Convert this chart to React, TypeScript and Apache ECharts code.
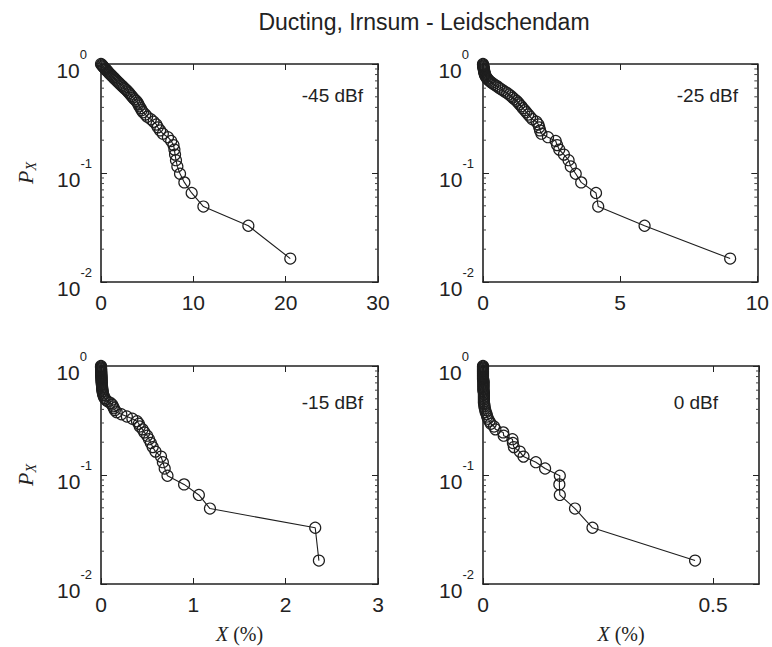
import React, { useEffect, useRef } from 'react';
import * as echarts from 'echarts';

const TITLE = 'Ducting, Irnsum - Leidschendam';
const PANEL_LABELS = ['-45 dBf', '-25 dBf', '-15 dBf', '0 dBf'];
const X_MAX = [30, 10, 3, 0.6];
const X_INTERVAL = [10, 5, 1, 0.5];
const Y_MINOR = [0.02, 0.03, 0.04, 0.05, 0.06, 0.07, 0.08, 0.09, 0.2, 0.3, 0.4, 0.5, 0.6, 0.7, 0.8, 0.9];

// exceedance probability P_X (same for every panel)
const PX = [
  1.0, 0.9836, 0.9672, 0.9508, 0.9344, 0.918, 0.9016, 0.8852, 0.8689, 0.8525,
  0.8361, 0.8197, 0.8033, 0.7869, 0.7705, 0.7541, 0.7377, 0.7213, 0.7049, 0.6885,
  0.6721, 0.6557, 0.6393, 0.623, 0.6066, 0.5902, 0.5738, 0.5574, 0.541, 0.5246,
  0.5082, 0.4918, 0.4754, 0.459, 0.4426, 0.4262, 0.4098, 0.3934, 0.377, 0.3607,
  0.3443, 0.3279, 0.3115, 0.2951, 0.2787, 0.2623, 0.2459, 0.2295, 0.2131, 0.1967,
  0.1803, 0.1639, 0.1475, 0.1311, 0.1148, 0.0984, 0.082, 0.0656, 0.0492, 0.0328,
  0.0164,
];

// X (%) values per panel
const X_M45 = [
  0.0, 0.08, 0.15, 0.22, 0.3, 0.38, 0.47, 0.56, 0.64, 0.73,
  0.82, 0.91, 1.01, 1.12, 1.22, 1.33, 1.45, 1.56, 1.68, 1.8,
  1.93, 2.05, 2.2, 2.33, 2.48, 2.62, 2.78, 2.92, 3.05, 3.18,
  3.32, 3.45, 3.62, 3.8, 3.95, 4.05, 4.15, 4.3, 4.4, 4.55,
  4.8, 5.0, 5.4, 5.7, 6.0, 6.15, 6.4, 6.7, 7.25, 7.6,
  7.85, 7.95, 8.02, 8.12, 8.27, 8.56, 9.03, 9.82, 11.09, 15.96,
  20.5,
];
const X_M25 = [
  0.0, 0.0, 0.01, 0.01, 0.02, 0.02, 0.03, 0.03, 0.04, 0.05,
  0.05, 0.06, 0.07, 0.08, 0.1, 0.12, 0.15, 0.18, 0.22, 0.27,
  0.32, 0.38, 0.45, 0.52, 0.58, 0.65, 0.72, 0.8, 0.88, 0.95,
  1.02, 1.08, 1.15, 1.22, 1.28, 1.33, 1.4, 1.45, 1.52, 1.58,
  1.65, 1.72, 1.8, 1.95, 2.02, 2.05, 2.08, 2.13, 2.37, 2.65,
  2.7, 2.78, 2.95, 3.12, 3.2, 3.38, 3.58, 4.12, 4.2, 5.89,
  9.01,
];
const X_M15 = [
  0.0, 0.0, 0.0, 0.001, 0.001, 0.001, 0.002, 0.002, 0.002, 0.003,
  0.003, 0.004, 0.004, 0.005, 0.005, 0.006, 0.006, 0.007, 0.008, 0.009,
  0.01, 0.011, 0.012, 0.013, 0.015, 0.017, 0.019, 0.022, 0.026, 0.031,
  0.038, 0.05, 0.07, 0.1, 0.12, 0.13, 0.14, 0.15, 0.17, 0.22,
  0.28, 0.34, 0.39, 0.41, 0.42, 0.45, 0.47, 0.5, 0.52, 0.54,
  0.56, 0.59, 0.65, 0.67, 0.69, 0.72, 0.9, 1.06, 1.18, 2.32,
  2.36,
];
const X_0 = [
  0.0, 0.0, 0.0, 0.0, 0.0, 0.0, 0.0, 0.0, 0.0, 0.0,
  0.0, 0.0, 0.0, 0.0, 0.0, 0.0, 0.001, 0.001, 0.001, 0.001,
  0.001, 0.001, 0.001, 0.001, 0.001, 0.001, 0.002, 0.002, 0.002, 0.002,
  0.002, 0.002, 0.002, 0.002, 0.003, 0.003, 0.004, 0.005, 0.006, 0.008,
  0.009, 0.011, 0.014, 0.017, 0.024, 0.027, 0.044, 0.045, 0.064, 0.065,
  0.067, 0.08, 0.088, 0.115, 0.135, 0.167, 0.166, 0.167, 0.2, 0.238,
  0.461,
];

const X_DATA = [X_M45, X_M25, X_M15, X_0];

const SANS = 'Liberation Sans, Arial, sans-serif';
const SERIF = 'Liberation Serif, Times New Roman, serif';
const INK = '#222';
const MARK = '#1e1e1e';

export default function App() {
  const ref = useRef<HTMLDivElement>(null);

  useEffect(() => {
    if (!ref.current) return;
    const chart = echarts.init(ref.current, null, { renderer: 'svg' });

    const grids = [
      { left: 101, top: 64, width: 277, height: 218 },
      { left: 483, top: 64, width: 276, height: 218 },
      { left: 101, top: 366, width: 277, height: 218 },
      { left: 483, top: 366, width: 276, height: 218 },
    ];
    const labelPos = [
      [363, 95],
      [738, 95],
      [363, 402],
      [718, 402],
    ];

    const axisLine = { show: true, onZero: false, lineStyle: { color: INK, width: 1.6 } };
    const axisTick = { show: true, inside: true, length: 6, lineStyle: { color: INK, width: 1 } };

    const xAxis: any[] = [];
    const yAxis: any[] = [];
    const series: any[] = [];

    grids.forEach((g, i) => {
      xAxis.push({
        type: 'value',
        gridIndex: i,
        position: 'bottom',
        min: 0,
        max: X_MAX[i],
        interval: X_INTERVAL[i],
        axisLine,
        axisTick,
        splitLine: { show: false },
        axisLabel: {
          show: true,
          margin: 10,
          fontSize: 21,
          color: INK,
          fontFamily: SANS,
          showMaxLabel: i !== 3,
          formatter: (v: number) => String(v),
        },
        name: i >= 2 ? '{i|X}{n| (%)}' : '',
        nameLocation: 'middle',
        nameGap: 40,
        nameTextStyle: {
          rich: {
            i: { fontFamily: SERIF, fontStyle: 'italic', fontSize: 20, color: INK },
            n: { fontFamily: SERIF, fontSize: 20, color: INK },
          },
        },
      });
      xAxis.push({
        type: 'value',
        gridIndex: i,
        position: 'top',
        min: 0,
        max: X_MAX[i],
        interval: X_INTERVAL[i],
        axisLine,
        axisTick,
        splitLine: { show: false },
        axisLabel: { show: false },
      });
      yAxis.push({
        type: 'log',
        logBase: 10,
        gridIndex: i,
        position: 'left',
        min: 0.01,
        max: 1,
        axisLine,
        axisTick,
        splitLine: { show: false },
        axisLabel: {
          show: true,
          margin: 9,
          formatter: (v: number) => {
            const e = Math.round(Math.log10(v));
            return `{b|10}{${e === 0 ? 'z' : 'e'}|${e}}`;
          },
          rich: {
            b: { fontSize: 21, lineHeight: 33, verticalAlign: 'bottom', fontFamily: SANS, color: INK },
            e: { fontSize: 13, verticalAlign: 'top', fontFamily: SANS, color: INK },
            z: { fontSize: 13, verticalAlign: 'top', fontFamily: SANS, color: INK, padding: [0, 5, 0, 0] },
          },
        },
        name: i % 2 === 0 ? '{p|P}{s|X}' : '',
        nameLocation: 'middle',
        nameGap: 63,
        nameRotate: 90,
        nameTextStyle: {
          rich: {
            p: { fontFamily: SERIF, fontStyle: 'italic', fontSize: 22, lineHeight: 26, color: INK },
            s: { fontFamily: SERIF, fontStyle: 'italic', fontSize: 14, verticalAlign: 'bottom', color: INK },
          },
        },
      });
      yAxis.push({
        type: 'log',
        logBase: 10,
        gridIndex: i,
        position: 'right',
        min: 0.01,
        max: 1,
        axisLine,
        axisTick,
        splitLine: { show: false },
        axisLabel: { show: false },
      });

      const xmax = X_MAX[i];
      series.push({
        type: 'custom',
        xAxisIndex: 2 * i,
        yAxisIndex: 2 * i,
        silent: true,
        z: 1,
        data: Y_MINOR.map((v) => [0, v]),
        renderItem: (_p: any, api: any) => {
          const v = api.value(1);
          const a = api.coord([0, v]);
          const b = api.coord([xmax, v]);
          return {
            type: 'group',
            children: [
              { type: 'line', shape: { x1: a[0], y1: a[1], x2: a[0] + 3, y2: a[1] }, style: { stroke: '#444', lineWidth: 1 } },
              { type: 'line', shape: { x1: b[0] - 3, y1: b[1], x2: b[0], y2: b[1] }, style: { stroke: '#444', lineWidth: 1 } },
            ],
          };
        },
      });
      series.push({
        type: 'line',
        xAxisIndex: 2 * i,
        yAxisIndex: 2 * i,
        data: X_DATA[i].map((x, j) => [x, PX[j]]),
        symbol: 'circle',
        symbolSize: 11,
        clip: false,
        silent: true,
        z: 3,
        itemStyle: { color: 'rgba(0,0,0,0)', borderColor: MARK, borderWidth: 1.2 },
        lineStyle: { color: MARK, width: 1.1 },
      });
    });

    const graphic: any[] = [
      {
        type: 'text',
        x: 424,
        y: 22,
        style: { text: TITLE, fontSize: 23, fontFamily: SANS, fill: INK, textAlign: 'center', textVerticalAlign: 'middle' },
      },
      ...PANEL_LABELS.map((t, i) => ({
        type: 'text',
        x: labelPos[i][0],
        y: labelPos[i][1],
        style: { text: t, fontSize: 19, fontFamily: SANS, fill: INK, textAlign: 'right', textVerticalAlign: 'middle' },
      })),
    ];

    chart.setOption({
      animation: false,
      backgroundColor: '#fff',
      grid: grids,
      xAxis,
      yAxis,
      series,
      graphic,
    });

    return () => chart.dispose();
  }, []);

  return (
    <div
      ref={ref}
      style={{ position: 'absolute', left: 0, top: 0, width: 772, height: 647, background: '#fff' }}
    />
  );
}
